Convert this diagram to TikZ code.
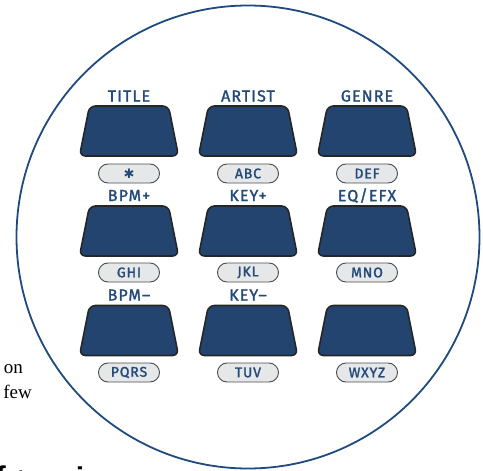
\documentclass[tikz,border=0pt]{standalone}
\usepackage{fontspec}
\setmainfont{Liberation Serif}
\newfontfamily\keyfont{Fira Sans}[LetterSpace=7, FakeBold=1.6]
\newfontfamily\pillfont{Fira Sans}[LetterSpace=6, FakeBold=1.6]
\newfontfamily\symfont{DejaVu Sans}
\newfontfamily\boldsans{Liberation Sans}
\usetikzlibrary{shapes.misc,calc}
\definecolor{keyblue}{HTML}{22446F}
\definecolor{labelblue}{HTML}{234A78}
\definecolor{ringblue}{HTML}{1F4A80}
\definecolor{pillgray}{HTML}{E6E7E9}
\begin{document}
\begin{tikzpicture}[x=1pt,y=-1pt,
  keybox/.style={rectangle, minimum width=99pt, minimum height=50pt, inner sep=0pt},
  keyline/.style={draw=black!85, line width=1.6pt, fill=keyblue, rounded corners=6pt},
  pill/.style={rounded rectangle, draw=black!70, line width=0.9pt, fill=pillgray,
    minimum width=61pt, minimum height=19pt, inner sep=0pt, text=labelblue,
    font=\pillfont\fontsize{14}{14}\selectfont},
  lbl/.style={inner sep=0pt, text=labelblue, font=\keyfont\fontsize{16}{16}\selectfont},
  sidetext/.style={inner sep=0pt, font=\fontsize{19}{19}\selectfont},
  cut/.style={inner sep=0pt, font=\boldsans\bfseries\fontsize{30}{30}\selectfont}]
\useasboundingbox (0,0) rectangle (483,471);
% ring
\node[circle, draw=ringblue, line width=1.8pt, minimum size=463pt, inner sep=0pt] (ring) at (248,237) {};
% keys
\foreach \c/\x in {1/129,2/248,3/367}{
  \foreach \r/\t in {1/106,2/206,3/305.5}{
    \node[keybox] (key\r\c) at (\x,\t+25) {};
    \draw[keyline] ($(key\r\c.center)+(0,25)$) -- ($(key\r\c.center)+(-49.5,25)$)
      -- ($(key\r\c.center)+(-39.5,-25)$) -- ($(key\r\c.center)+(39.5,-25)$)
      -- ($(key\r\c.center)+(49.5,25)$) -- cycle;
  }
}
% labels
\node[lbl] (lab11) at (129,96) {TITLE};
\node[lbl] (lab12) at (248,96) {ARTIST};
\node[lbl] (lab13) at (367,96) {GENRE};
\node[lbl] (lab21) at (129,195.5) {BPM+};
\node[lbl] (lab22) at (248,195.5) {KEY+};
\node[lbl] (lab23) at (367,195.5) {EQ/EFX};
\node[lbl] (lab31) at (129,295) {BPM–};
\node[lbl] (lab32) at (248,295) {KEY–};
% pills
\node[pill] (pill11) at (129,173.5) {\symfont\fontsize{13}{13}\selectfont ✱};
\node[pill] (pill12) at (248,173.5) {ABC};
\node[pill] (pill13) at (367,173.5) {DEF};
\node[pill] (pill21) at (129,272.5) {GHI};
\node[pill] (pill22) at (248,272.5) {JKL};
\node[pill] (pill23) at (367,272.5) {MNO};
\node[pill] (pill31) at (129,372.5) {PQRS};
\node[pill] (pill32) at (248,372.5) {TUV};
\node[pill] (pill33) at (367,372.5) {WXYZ};
% side text
\node[sidetext, anchor=base east] (on) at (23,373) {on};
\node[sidetext, anchor=base east] (few) at (32,398) {few};
% cut-off bottom text
\begin{scope}
\clip (0,0) rectangle (483,471);
\node[cut, anchor=base east] (cf) at (6,487) {f};
\node[cut, anchor=base] (ct) at (20.5,490) {t};
\node[cut, anchor=base] (cz) at (44,488) {z};
\node[cut, anchor=base] (ci) at (80,488) {i};
\end{scope}
\end{tikzpicture}
\end{document}
